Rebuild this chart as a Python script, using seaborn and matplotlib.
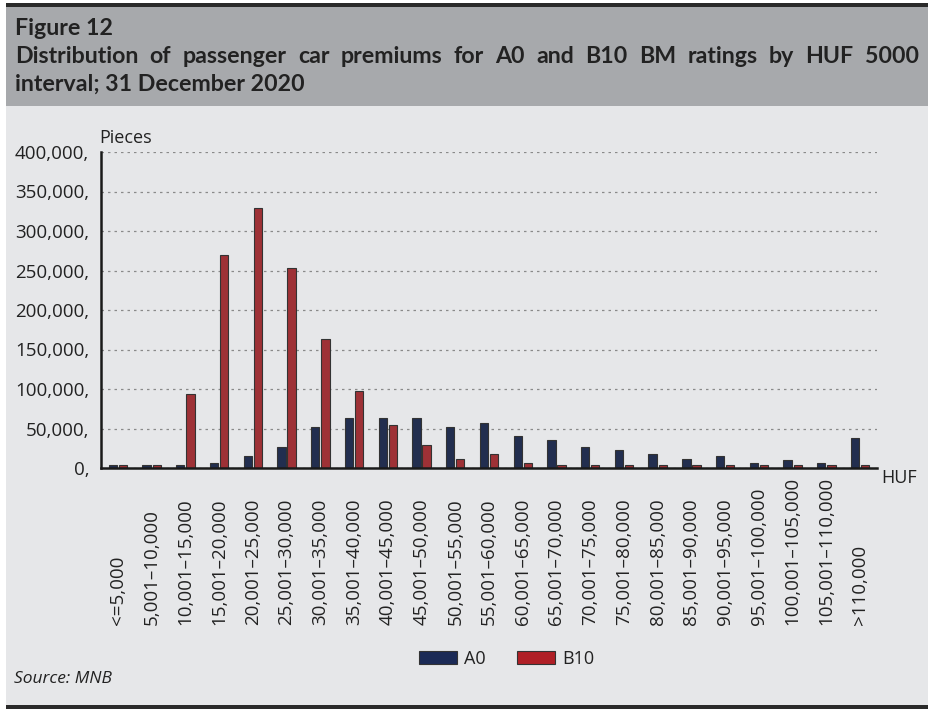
import numpy as np
import pandas as pd
import matplotlib
matplotlib.use("Agg")
import matplotlib.pyplot as plt
import seaborn as sns
from matplotlib.patches import Rectangle, Patch
from matplotlib.transforms import IdentityTransform

# ---------------- data ----------------
categories = ["<=5,000", "5,001–10,000", "10,001–15,000", "15,001–20,000",
              "20,001–25,000", "25,001–30,000", "30,001–35,000", "35,001–40,000",
              "40,001–45,000", "45,001–50,000", "50,001–55,000", "55,001–60,000",
              "60,001–65,000", "65,001–70,000", "70,001–75,000", "75,001–80,000",
              "80,001–85,000", "85,001–90,000", "90,001–95,000", "95,001–100,000",
              "100,001–105,000", "105,001–110,000", ">110,000"]
a0_values = [3500, 3500, 3500, 6500, 15000, 26000, 52000, 63000, 63000, 63000,
             52000, 57000, 41000, 35000, 26000, 23000, 18000, 12000, 15000, 6500,
             9500, 6500, 38000]
b10_values = [3500, 3500, 94000, 270000, 329000, 253000, 163000, 97000, 55000, 29000,
              12000, 18000, 6500, 3500, 3500, 3500, 3500, 3500, 3500, 3500,
              3500, 3500, 3500]
series_names = ["A0", "B10"]
y_ticks = [0, 50000, 100000, 150000, 200000, 250000, 300000, 350000, 400000]
y_tick_labels = ["0,", "50,000,", "100,000,", "150,000,", "200,000,", "250,000,",
                 "300,000,", "350,000,", "400,000,"]
title_fig = "Figure 12"
title_line1 = "Distribution of passenger car premiums for A0 and B10 BM ratings by HUF 5000"
title_line2 = "interval; 31 December 2020"
y_unit = "Pieces"
x_unit = "HUF"
source = "Source: MNB"

df = pd.DataFrame({
    "category": categories * 2,
    "series": ["A0"] * len(categories) + ["B10"] * len(categories),
    "value": a0_values + b10_values,
})

# ---------------- style ----------------
sns.set_style("white")
plt.rcParams["font.family"] = ["Open Sans", "DejaVu Sans"]

NAVY = "#1b2a56"
RED = "#b01f26"
BG = "#e6e7e9"
BAND = "#a7a9ac"
DARK = "#2a2a2a"

W, H = 933, 710
fig = plt.figure(figsize=(W / 100, H / 100), dpi=100)
fig.patch.set_facecolor("white")

def fr(x0, y0, x1, y1, color):
    # rectangle given in pixel coords (y from top)
    fig.patches.append(Rectangle((x0 / W, 1 - y1 / H), (x1 - x0) / W, (y1 - y0) / H,
                                 transform=fig.transFigure, facecolor=color,
                                 edgecolor="none", zorder=-5))

fr(6, 6, 928, 706, BG)
fr(6, 6, 928, 106, BAND)
fr(6, 3, 928, 6.5, DARK)
fr(6, 705, 928, 709, DARK)

# ---------------- axes ----------------
left, right, top, bottom = 101, 877, 152, 468
ax = fig.add_axes([left / W, 1 - bottom / H, (right - left) / W, (bottom - top) / H])
ax.set_facecolor("none")
ax.set_zorder(2)

sns.barplot(data=df, x="category", y="value", hue="series", order=categories,
            hue_order=series_names, palette={"A0": NAVY, "B10": RED},
            width=0.6, gap=0.18, edgecolor="#333333", linewidth=0.8,
            legend=False, ax=ax)

ax.set_ylim(0, 400000)
ax.set_xlim(-0.5, len(categories) - 0.5)
ax.set_yticks(y_ticks, labels=y_tick_labels)
ax.set_xlabel("")
ax.set_ylabel("")

ax.yaxis.grid(True, linestyle=(0, (2, 3.2)), color="#8a8a8a", linewidth=0.9)
ax.xaxis.grid(False)
ax.set_axisbelow(True)

for s in ["top", "right"]:
    ax.spines[s].set_visible(False)
for s in ["left", "bottom"]:
    ax.spines[s].set_color("#1a1a1a")
    ax.spines[s].set_linewidth(1.8)
    ax.spines[s].set_zorder(5)

ax.tick_params(axis="y", length=4, width=1.5, color="#1a1a1a", pad=4.5,
               labelsize=13.5, labelcolor="#222222")
ax.set_xticks(np.arange(-0.5, len(categories), 1), minor=True)
ax.tick_params(axis="x", which="minor", length=5, width=1.6, color="#1a1a1a")
ax.tick_params(axis="x", which="major", length=0, pad=113, labelsize=13.5,
               labelcolor="#222222")
plt.setp(ax.get_xticklabels(), rotation=90, ha="left", va="center",
         rotation_mode="anchor")

# legend
handles = [Patch(facecolor=NAVY, edgecolor="#333333", linewidth=0.8, label="A0"),
           Patch(facecolor=RED, edgecolor="#333333", linewidth=0.8, label="B10")]
fig.legend(handles=handles, loc="center", bbox_to_anchor=(506.5 / W, 1 - 659 / H),
           ncol=2, frameon=False, fontsize=13, handlelength=2.13, handleheight=0.68,
           handletextpad=0.39, columnspacing=1.72, labelcolor="#222222")

# units and source
fig.text(99, H - 143, y_unit, transform=IdentityTransform(), fontsize=13,
         color="#222222", ha="left", va="baseline")
fig.text(881, H - 478, x_unit, transform=IdentityTransform(), fontsize=13,
         color="#222222", ha="left", va="center")
fig.text(14, H - 683, source, transform=IdentityTransform(), fontsize=12.5,
         style="italic", color="#222222", ha="left", va="baseline")

# ---------------- title (justified first line) ----------------
fig.canvas.draw()
r = fig.canvas.get_renderer()
TF = ["Lato", "DejaVu Sans"]
probe = fig.text(0, 0, title_line2, fontsize=16, fontweight="bold", family=TF,
                 transform=IdentityTransform())
w16 = probe.get_window_extent(renderer=r).width
probe.remove()
tsize = 16 * 290 / w16

kw = dict(fontsize=tsize, fontweight="bold", family=TF, color="#222222",
          transform=IdentityTransform(), va="baseline", ha="left")
fig.text(15, H - 35, title_fig, **kw)
fig.text(15, H - 90.5, title_line2, **kw)

words = title_line1.split()
texts = [fig.text(0, H - 63, w, **kw) for w in words]
widths = [t.get_window_extent(renderer=r).width for t in texts]
gap = (919 - 15 - sum(widths)) / (len(words) - 1)
x = 15
for t, w in zip(texts, widths):
    t.set_x(x)
    x += w + gap

fig.savefig("out.png", dpi=100, facecolor=fig.get_facecolor())
